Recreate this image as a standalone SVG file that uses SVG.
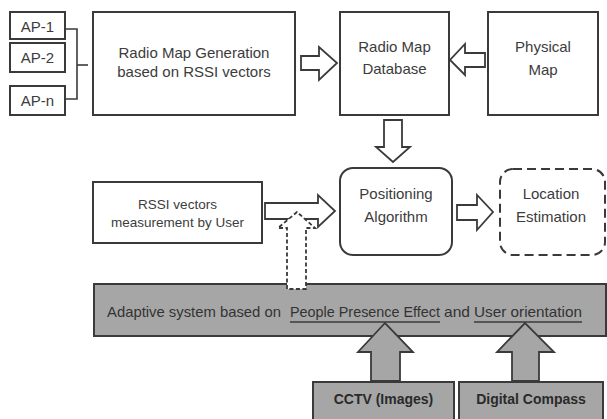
<svg xmlns="http://www.w3.org/2000/svg" width="607" height="419" viewBox="0 0 607 419">
<defs>
<style>
.box{fill:#fff;stroke:#3a3a3a;stroke-width:2}
.gbox{fill:#a6a6a6;stroke:#3a3a3a;stroke-width:2}
.dash{fill:#fff;stroke:#3a3a3a;stroke-width:2;stroke-dasharray:9 5}
.harrow{fill:#fff;stroke:#3a3a3a;stroke-width:1.8;stroke-linejoin:miter}
.darrow{fill:#fff;stroke:#3a3a3a;stroke-width:1.8;stroke-dasharray:4 2.5}
.garrow{fill:#a6a6a6;stroke:#3a3a3a;stroke-width:1.8}
.line{fill:none;stroke:#3a3a3a;stroke-width:1.6}
text{font-family:"Liberation Sans",Arial,sans-serif;fill:#3c3c3c;text-anchor:middle}
.t15{font-size:15px}
.t14{font-size:14px}
.t13{font-size:13.5px}
.b14{font-size:14px;font-weight:bold;fill:#2a2a2a}
</style>
</defs>
<rect width="607" height="419" fill="#fff"/>

<g id="ap1"><rect class="box" x="10" y="12" width="55" height="27"/><text class="t15" x="37.5" y="32">AP-1</text></g>
<g id="ap2"><rect class="box" x="10" y="43" width="55" height="29"/><text class="t15" x="37.5" y="63">AP-2</text></g>
<g id="apn"><rect class="box" x="10" y="86" width="55" height="29"/><text class="t15" x="37.5" y="106">AP-n</text></g>

<g id="gen"><rect class="box" x="93" y="12" width="202" height="103"/>
<text class="t15" x="194" y="58">Radio Map Generation</text>
<text class="t15" x="194" y="77">based on RSSI vectors</text></g>

<g id="db"><rect class="box" x="340" y="12" width="109" height="103"/>
<text class="t15" x="394.5" y="52">Radio Map</text>
<text class="t15" x="394.5" y="74">Database</text></g>

<g id="phys"><rect class="box" x="488" y="12" width="110" height="103"/>
<text class="t15" x="543" y="52">Physical</text>
<text class="t15" x="543" y="75">Map</text></g>

<g id="rssi"><rect class="box" x="93" y="182" width="169" height="61"/>
<text class="t13" x="177.5" y="209">RSSI vectors</text>
<text class="t13" x="177.5" y="227">measurement by User</text></g>

<g id="pos"><rect class="box" x="340" y="168" width="112" height="87" rx="13"/>
<text class="t15" x="396" y="199">Positioning</text>
<text class="t15" x="396" y="222">Algorithm</text></g>

<g id="loc"><rect class="dash" x="500" y="169" width="105" height="86" rx="13"/>
<text class="t15" x="551" y="199">Location</text>
<text class="t15" x="551" y="222">Estimation</text></g>

<g id="adaptive"><rect class="gbox" x="94" y="284" width="512" height="52"/>
<text style="font-size:14.5px;text-anchor:start;fill:#333"><tspan x="107" y="317" textLength="174" lengthAdjust="spacingAndGlyphs">Adaptive system based on</tspan><tspan x="290" y="317" textLength="150" lengthAdjust="spacingAndGlyphs">People Presence Effect</tspan><tspan x="444" y="317" textLength="26" lengthAdjust="spacingAndGlyphs">and</tspan><tspan x="474" y="317" textLength="108" lengthAdjust="spacingAndGlyphs">User orientation</tspan></text>
<line class="line" x1="290" y1="322" x2="440" y2="322"/>
<line class="line" x1="474" y1="322" x2="582" y2="322"/></g>

<g id="cctv"><rect class="gbox" x="313" y="382" width="141" height="45"/>
<text class="b14" x="383.5" y="404">CCTV (Images)</text></g>

<g id="compass"><rect class="gbox" x="459" y="382" width="144" height="45"/>
<text class="b14" x="531" y="404">Digital Compass</text></g>

<g id="connectors">
<polyline class="line" points="65,29 77,29 77,99 65,99"/>
<line class="line" x1="77" y1="65" x2="88" y2="65"/>
<polygon class="harrow" points="301,56 319,56 319,47 337,63 319,80 319,70 301,70"/>
<polygon class="harrow" points="485,53 465,53 465,44 450,60 465,75 465,67 485,67"/>
<polygon class="harrow" points="384,120 402,120 402,147 410,147 393,162 376,147 384,147"/>
<polygon class="harrow" points="265,203 318,203 318,195 335,211 318,227 318,219 265,219"/>
<polygon class="harrow" points="457,205 477,205 477,195 493,212 477,230 477,220 457,220"/>
<polygon class="darrow" points="287,289 287,228 278,228 297,212 315,228 306,228 306,289"/>
<polygon class="garrow" points="371,381 371,352 358,352 385,323 413,352 400,352 400,381"/>
<polygon class="garrow" points="512,381 512,352 497,352 525,323 554,352 539,352 539,381"/>
</g>
</svg>
